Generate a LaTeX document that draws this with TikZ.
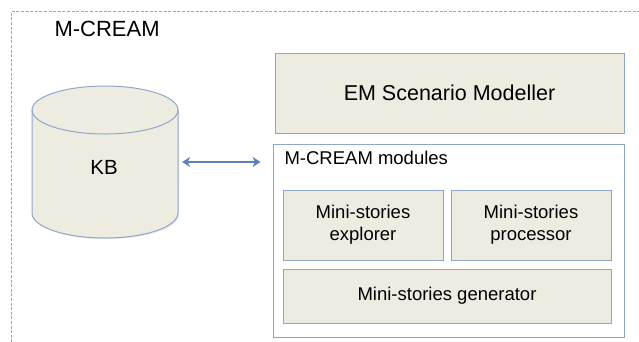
\documentclass[tikz,border=0pt]{standalone}
\usepackage{fontspec}
\setmainfont{Liberation Sans}
\usepackage{xcolor}
\usepackage{tikz}
\usetikzlibrary{arrows.meta,positioning,shadows}

\definecolor{boxfill}{HTML}{EEECE1}
\definecolor{boxline}{HTML}{8EA6CB}
\definecolor{arrowblue}{HTML}{5B82B8}
\definecolor{frameline}{HTML}{97A8C4}

\begin{document}
\begin{tikzpicture}[x=1pt,y=-1pt,
    modbox/.style={draw=boxline,fill=boxfill,line width=0.9pt,align=center,
      drop shadow={opacity=0.18,shadow xshift=1pt,shadow yshift=-1.2pt}},
    smalltxt/.style={font=\fontsize{18.5}{22}\selectfont}]
  \useasboundingbox (0,0) rectangle (639,341);
  % outer dashed frame
  \draw[frameline,dashed,dash pattern=on 3pt off 1.6pt,line width=0.9pt]
        (645,11.5) -- (11.5,11.5) -- (11.5,345);
  \node[anchor=west,font=\fontsize{22}{26}\selectfont] (title) at (51,29) {M-CREAM};
  % knowledge base drum
  \node[minimum width=146pt,minimum height=152pt] (kb) at (105,162) {};
  \path[fill=boxfill,drop shadow={opacity=0.18,shadow xshift=1pt,shadow yshift=-1.2pt}]
        (32,110) -- (32,213) arc[start angle=180,end angle=360,x radius=73pt,y radius=25pt]
        -- (178,110) arc[start angle=0,end angle=180,x radius=73pt,y radius=24pt] -- cycle;
  \draw[boxline,line width=1pt]
        (32,110) -- (32,213) arc[start angle=180,end angle=360,x radius=73pt,y radius=25pt]
        -- (178,110) arc[start angle=0,end angle=180,x radius=73pt,y radius=24pt] -- cycle;
  \draw[boxline,line width=1pt]
        (32,110) arc[start angle=180,end angle=360,x radius=73pt,y radius=24pt];
  \node[font=\fontsize{20.5}{24}\selectfont] (kbtxt) at (104,167) {KB};
  % right hand side
  \node[modbox,minimum width=349pt,minimum height=80pt,font=\fontsize{21.5}{26}\selectfont]
        (em) at (449.5,93) {EM Scenario Modeller};
  \node[modbox,fill=white,minimum width=351pt,minimum height=193pt] (modules) at (448.5,240.5) {};
  \node[smalltxt,anchor=west] (modlabel) at (281,158) {M-CREAM modules};
  \node[modbox,smalltxt,minimum width=160pt,minimum height=70pt] (explorer) at (363,225)
        {Mini-stories\\explorer};
  \node[modbox,smalltxt,minimum width=160pt,minimum height=70pt] (processor) at (531,225)
        {Mini-stories\\processor};
  \node[modbox,smalltxt,minimum width=328pt,minimum height=54pt] (generator) at (447,296)
        {Mini-stories generator};
  % link kb <-> modules
  \draw[arrowblue,line width=2.6pt,{Stealth[length=8pt,width=10pt]}-{Stealth[length=8pt,width=10pt]}]
        ([xshift=4pt]kb.east) -- ([xshift=-12pt]modules.west |- kb.east);
\end{tikzpicture}
\end{document}
